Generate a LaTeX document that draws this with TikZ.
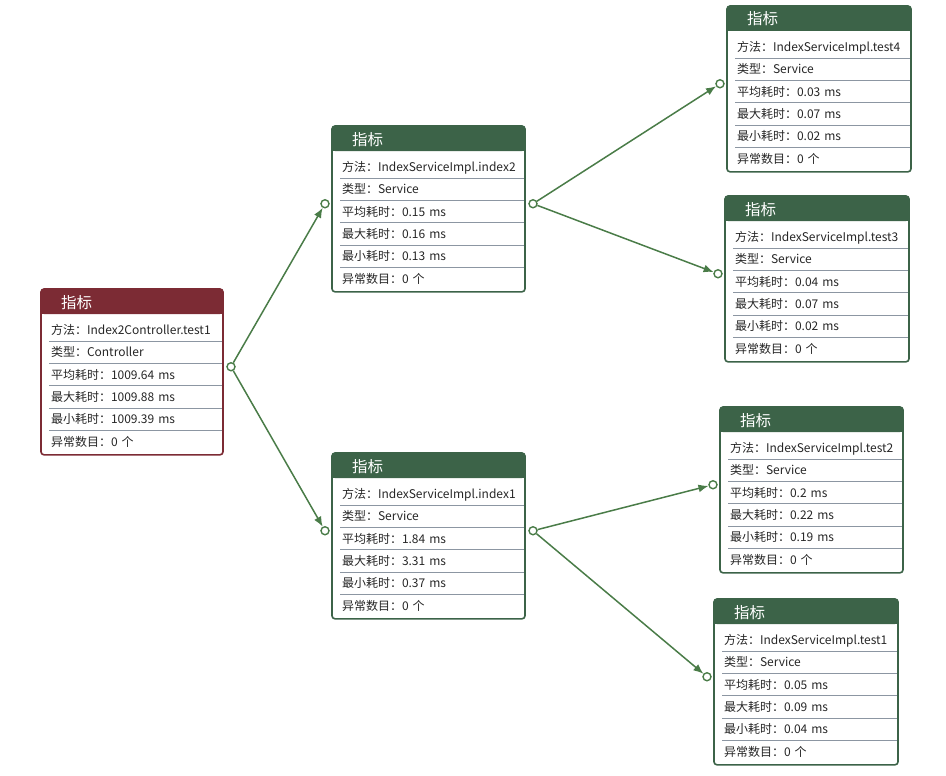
\documentclass[tikz,border=0pt]{standalone}
\usepackage{fontspec}
\setmainfont{Noto Sans CJK SC}
\usetikzlibrary{
  arrows.meta,
  backgrounds,
  positioning,
}
\definecolor{headgreen}{RGB}{60,99,72}
\definecolor{headred}{RGB}{124,43,52}
\definecolor{linkgreen}{RGB}{74,124,72}
\definecolor{rulegray}{RGB}{140,150,162}
\tikzset{
  >=Latex,
  head/.style={anchor=north west, inner xsep=20pt, inner ysep=0pt, outer sep=0pt,
    minimum height=25pt, text height=13pt, text depth=0pt, text=white,
    align=left, rounded corners=3pt, font=\fontsize{15.5}{15.5}\selectfont},
  row/.style={inner xsep=10pt, inner ysep=0pt, outer sep=0pt, minimum height=22.3pt,
    text height=10pt, text depth=1pt, text=black!85, align=left,
    font=\fontsize{12}{12}\selectfont},
  frame/.style={line width=1.6pt, rounded corners=3pt},
  rule/.style={draw=rulegray, line width=0.9pt},
  port/.style={circle, draw=linkgreen, fill=white, line width=1.4pt,
    minimum size=8pt, inner sep=0pt},
  link/.style={draw=linkgreen, line width=1.5pt, -{Latex[length=10pt,width=8pt]}},
}
% name, corner, width, colour, method, type, avg, max, min
\newcommand{\metricbox}[9]{%
  \pgfmathsetlengthmacro\headw{#3-40}
  \pgfmathsetlengthmacro\roww{#3-20}
  \node[head, fill=#4, text width=\headw] (#1) at (#2) {指标};
  \scoped[on background layer] \fill[#4] (#1.west) rectangle (#1.south east);
  \node[row, text width=\roww, below=5pt of #1] (#1-1) {方法：#5};
  \node[row, text width=\roww, below=0pt of #1-1] (#1-2) {类型：#6};
  \node[row, text width=\roww, below=0pt of #1-2] (#1-3) {平均耗时：#7 ms};
  \node[row, text width=\roww, below=0pt of #1-3] (#1-4) {最大耗时：#8 ms};
  \node[row, text width=\roww, below=0pt of #1-4] (#1-5) {最小耗时：#9 ms};
  \node[row, text width=\roww, below=0pt of #1-5] (#1-6) {异常数目：0 个};
  \foreach \r in {1,...,5}
    \draw[rule] ([xshift=8pt]#1-\r.south west) -- (#1-\r.south east);
  \draw[frame, draw=#4] (#1.north west) rectangle ([yshift=-2pt]#1-6.south east);
}

\begin{document}
\begin{tikzpicture}[x=1pt, y=-1pt]
  \useasboundingbox (0,0) rectangle (946,776);

  \metricbox{root}{41,289}{182}{headred}{Index2Controller.test1}{Controller}{1009.64}{1009.88}{1009.39}
  \metricbox{index2}{332,126}{193}{headgreen}{IndexServiceImpl.index2}{Service}{0.15}{0.16}{0.13}
  \metricbox{index1}{332,453}{193}{headgreen}{IndexServiceImpl.index1}{Service}{1.84}{3.31}{0.37}
  \metricbox{test4}{727,6}{184}{headgreen}{IndexServiceImpl.test4}{Service}{0.03}{0.07}{0.02}
  \metricbox{test3}{725,196}{184}{headgreen}{IndexServiceImpl.test3}{Service}{0.04}{0.07}{0.02}
  \metricbox{test2}{720,407}{183}{headgreen}{IndexServiceImpl.test2}{Service}{0.2}{0.22}{0.19}
  \metricbox{test1}{714,599}{184}{headgreen}{IndexServiceImpl.test1}{Service}{0.05}{0.09}{0.04}

  % ports
  \foreach \n in {root,index2,index1}
    \node[port] (\n-out) at ([xshift=8pt,yshift=8pt]\n-3.east) {};
  \foreach \n in {index2,index1,test4,test3,test2,test1}
    \node[port] (\n-in) at ([xshift=-7pt,yshift=8pt]\n-3.west) {};

  \draw[link] (root-out) -- (index2-in);
  \draw[link] (root-out) -- (index1-in);
  \draw[link] (index2-out) -- (test4-in);
  \draw[link] (index2-out) -- (test3-in);
  \draw[link] (index1-out) -- (test2-in);
  \draw[link] (index1-out) -- (test1-in);
\end{tikzpicture}
\end{document}
